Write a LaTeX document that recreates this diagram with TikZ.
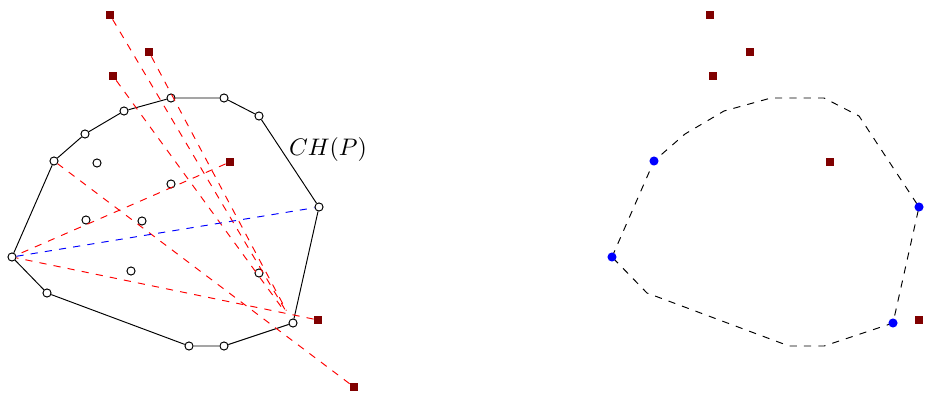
\documentclass[tikz,border=0pt]{standalone}
\begin{document}
\begin{tikzpicture}[x=0.0147cm, y=-0.0147cm,
    hullpoint/.style={circle, draw, fill=white, inner sep=0pt, minimum size=3.4pt},
    querypoint/.style={rectangle, fill=red!50!black, inner sep=0pt, minimum size=3.3pt},
    tangentpoint/.style={circle, fill=blue, inner sep=0pt, minimum size=3.8pt}]
    \useasboundingbox (0,0) rectangle (950,394);

    % Hull vertices
    \foreach \n/\x/\y in {v1/12/257, v2/54/161, v3/85/134, v4/124/111, v5/171/98, v6/224/98,
                          v7/259/116, v8/319/207, v9/293/323, v10/224/346, v11/189/346, v12/47/293} {
        \node[hullpoint] (\n) at (\x,\y) {};
    }
    % Inner points
    \foreach \n/\x/\y in {in1/97/163, in2/171/184, in3/86/220, in4/142/221, in5/131/271, in6/259/273} {
        \node[hullpoint] (\n) at (\x,\y) {};
    }
    \draw (v1) -- (v2) -- (v3) -- (v4) -- (v5) -- (v6) -- (v7) -- (v8) -- (v9) -- (v10) -- (v11) -- (v12) -- (v1);
    \node (chp) at (328,150) {$CH(P)$};

    % Query points
    \foreach \n/\x/\y in {q1/110/15, q2/149/52, q3/113/76, q4/230/162, q5/318/320, q6/354/387} {
        \node[querypoint] (\n) at (\x,\y) {};
    }
    \draw[red, dashed, shorten >=4pt] (q1) -- (v9);
    \draw[red, dashed, shorten >=4pt] (q2) -- (v9);
    \draw[red, dashed, shorten >=4pt] (q3) -- (v9);
    \draw[red, dashed] (q4) -- (v1);
    \draw[red, dashed] (q5) -- (v1);
    \draw[red, dashed] (q6) -- (v2);
    \draw[blue, dashed] (v1) -- (v8);

    % Second copy
    \begin{scope}[shift={(600,0)}]
        \foreach \n/\x/\y in {c1/12/257, c2/54/161, c3/85/134, c4/124/111, c5/171/98, c6/224/98,
                              c7/259/116, c8/319/207, c9/293/323, c10/224/346, c11/189/346, c12/47/293} {
            \coordinate (\n) at (\x,\y);
        }
        \draw[dashed] (c1) -- (c2) -- (c3) -- (c4) -- (c5) -- (c6) -- (c7) -- (c8) -- (c9) -- (c10) -- (c11) -- (c12) -- cycle;
        \foreach \n in {c1, c2, c8, c9} {
            \node[tangentpoint] (t\n) at (\n) {};
        }
        \foreach \n/\x/\y in {r1/110/15, r2/150/52, r3/113/76, r4/230/162, r5/319/320} {
            \node[querypoint] (\n) at (\x,\y) {};
        }
    \end{scope}
\end{tikzpicture}
\end{document}
